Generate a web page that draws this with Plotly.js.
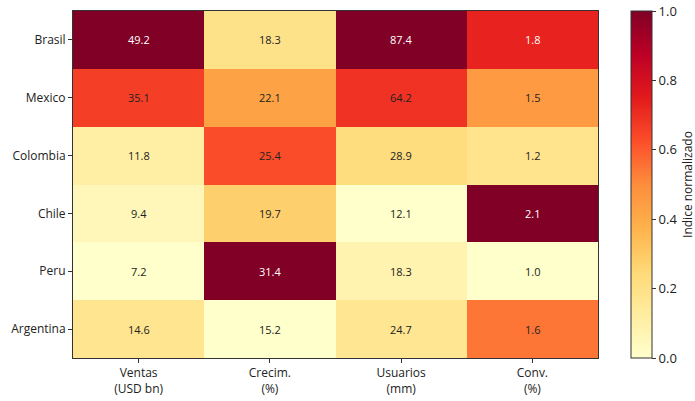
<!DOCTYPE html>
<html>
<head>
<meta charset="utf-8">
<script src="https://cdn.plot.ly/plotly-3.0.1.min.js"></script>
<style>html,body{margin:0;padding:0;background:#fff;}</style>
</head>
<body>
<div id="chart" style="width:695px;height:401px;"></div>
<script>
const countries = ["Brasil", "Mexico", "Colombia", "Chile", "Peru", "Argentina"];
const metricLabels = ["Ventas<br>(USD bn)", "Crecim.<br>(%)", "Usuarios<br>(mm)", "Conv.<br>(%)"];
const ventas   = [49.2, 35.1, 11.8, 9.4, 7.2, 14.6];
const crecim   = [18.3, 22.1, 25.4, 19.7, 31.4, 15.2];
const usuarios = [87.4, 64.2, 28.9, 12.1, 18.3, 24.7];
const conv     = [1.8, 1.5, 1.2, 2.1, 1.0, 1.6];

const columns = [ventas, crecim, usuarios, conv];
const norm = columns.map(col => {
  const mn = Math.min(...col), mx = Math.max(...col);
  return col.map(v => (v - mn) / (mx - mn));
});
const z = countries.map((_, i) => columns.map((_, j) => norm[j][i]));

const ylorrd = [
  [0.0, "#ffffcc"], [0.125, "#ffeda0"], [0.25, "#fed976"], [0.375, "#feb24c"],
  [0.5, "#fd8d3c"], [0.625, "#fc4e2a"], [0.75, "#e31a1c"], [0.875, "#bd0026"], [1.0, "#800026"]
];

const annotations = [];
countries.forEach((c, i) => {
  columns.forEach((col, j) => {
    annotations.push({
      x: metricLabels[j], y: c, xref: "x", yref: "y",
      text: col[i].toFixed(1), showarrow: false,
      font: {family: "Open Sans, sans-serif", size: 11, color: norm[j][i] > 0.7 ? "#ffffff" : "#222222"}
    });
  });
});

const trace = {
  type: "heatmap",
  x: metricLabels, y: countries, z: z,
  zmin: 0, zmax: 1,
  colorscale: ylorrd,
  xgap: 0, ygap: 0,
  hoverinfo: "skip",
  colorbar: {
    x: 1.063, xanchor: "left", xpad: 0, ypad: 0,
    y: 0.5, yanchor: "middle", len: 1, lenmode: "fraction",
    thickness: 21, thicknessmode: "pixels",
    outlinewidth: 1, outlinecolor: "#333",
    tickmode: "array", tickvals: [0, 0.2, 0.4, 0.6, 0.8, 1.0],
    ticktext: ["0.0", "0.2", "0.4", "0.6", "0.8", "1.0"],
    ticks: "outside", ticklen: 4, tickcolor: "#333",
    tickfont: {family: "Open Sans, sans-serif", size: 13, color: "#222"},
    title: {text: "Indice normalizado", side: "right", font: {family: "Open Sans, sans-serif", size: 12, color: "#222"}}
  }
};

const layout = {
  width: 695, height: 401,
  margin: {l: 73, r: 97, t: 11, b: 43, autoexpand: false},
  paper_bgcolor: "#fff", plot_bgcolor: "#fff",
  font: {family: "Open Sans, sans-serif", size: 12, color: "#222"},
  xaxis: {
    type: "category", showgrid: false, zeroline: false,
    ticks: "outside", ticklen: 4, tickcolor: "#333",
    showline: true, linecolor: "#333", linewidth: 1, mirror: true,
    tickfont: {size: 12}
  },
  yaxis: {
    type: "category", autorange: "reversed", showgrid: false, zeroline: false,
    ticks: "outside", ticklen: 4, tickcolor: "#333",
    showline: true, linecolor: "#333", linewidth: 1, mirror: true,
    tickfont: {size: 12}
  },
  annotations: annotations
};

Plotly.newPlot("chart", [trace], layout, {displayModeBar: false, staticPlot: true});
</script>
</body>
</html>
